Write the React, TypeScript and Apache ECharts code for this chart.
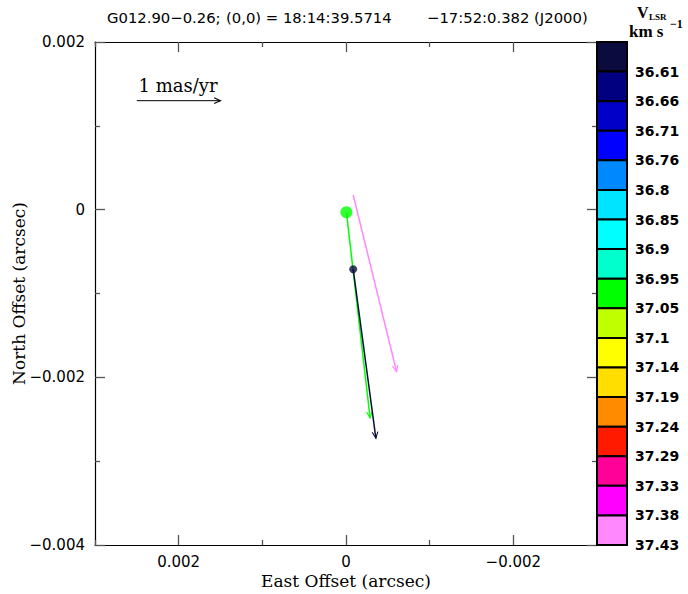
import React, { useEffect, useRef } from "react";
import * as echarts from "echarts";

// ---- data ----
const cbColors = [
  "#0b0b3e", "#000080", "#0000c8", "#0000ff", "#0088ff", "#00e4ff", "#00ffff", "#00ffcc",
  "#00ff00", "#bfff00", "#ffff00", "#ffde00", "#ff8c00", "#ff1a00", "#ff0099", "#ff00ff", "#ff88ff",
];
const cbLabels = [
  "36.61", "36.66", "36.71", "36.76", "36.8", "36.85", "36.9", "36.95", "37.05",
  "37.1", "37.14", "37.19", "37.24", "37.29", "37.33", "37.38", "37.43",
];

// maser spots (arcsec) and proper-motion vectors (arcsec, drawn with 1 mas/yr = 0.001)
const spotColorIdx = [16, 8, 0];
const spotX = [-0.000086, -0.000005, -0.000086];
const spotY = [0.000175, -0.00003, -0.000711];
const vecDX = [-0.000519, -0.000283, -0.000271];
const vecDY = [-0.002108, -0.002455, -0.002016];
const spotSize = [0, 12, 8];

// scale arrow
const scaleStart = [0.0025, 0.0013];
const scaleLen = 0.001;

// East offset tick positions, left to right (axis runs east -> west)
const xTickLabels = ["0.003", "0.002", "0.001", "0", "\u22120.001", "\u22120.002", "\u22120.003"];

const fmt = (v: number) => {
  const r = Math.round(v * 1000) / 1000;
  if (r === 0) return "0";
  return (r < 0 ? "\u2212" : "") + Math.abs(r).toFixed(3);
};

export default function App() {
  const ref = useRef<HTMLDivElement>(null);
  useEffect(() => {
    if (!ref.current) return;
    const chart = echarts.init(ref.current, undefined, { renderer: "svg" });

    const vecData = spotX.map((x, i) => [x, spotY[i], x + vecDX[i], spotY[i] + vecDY[i], spotColorIdx[i]]);
    const scaleData = [[scaleStart[0], scaleStart[1], scaleStart[0] - scaleLen, scaleStart[1], -1]];
    const dotData = spotX
      .map((x, i) => ({ value: [x, spotY[i]], size: spotSize[i], c: cbColors[spotColorIdx[i]] }))
      .filter((d) => d.size > 0)
      .map((d) => ({ value: d.value, symbolSize: d.size, itemStyle: { color: d.c } }));

    const arrowRender = (params: any, api: any) => {
      const p0 = api.coord([api.value(0), api.value(1)]);
      const p1 = api.coord([api.value(2), api.value(3)]);
      const ci = api.value(4);
      const c = ci < 0 ? "#000" : cbColors[ci];
      const lw = ci < 0 ? 1 : 1.5;
      const ang = Math.atan2(p1[1] - p0[1], p1[0] - p0[0]);
      const L = 7, a = 0.42;
      const h1 = [p1[0] - L * Math.cos(ang - a), p1[1] - L * Math.sin(ang - a)];
      const h2 = [p1[0] - L * Math.cos(ang + a), p1[1] - L * Math.sin(ang + a)];
      return {
        type: "group",
        children: [
          { type: "line", shape: { x1: p0[0], y1: p0[1], x2: p1[0], y2: p1[1] }, style: { stroke: c, lineWidth: lw } },
          { type: "polyline", shape: { points: [h1, p1, h2] }, style: { stroke: c, fill: "none", lineWidth: 1.1 } },
        ],
      };
    };

    const tickFont = { fontFamily: "DejaVu Sans", fontSize: 15, color: "#000" };
    const tickLine = { color: "#555", width: 1.3 };
    const isMajor = (i: number) => i % 2 === 1;
    const isMinor = (i: number) => i % 2 === 0;
    const catX = {
      type: "category",
      gridIndex: 0,
      data: xTickLabels,
      boundaryGap: false,
      splitLine: { show: false },
    };

    chart.setOption({
      animation: false,
      grid: [
        { left: 95, top: 42, width: 502, height: 503, outerBoundsMode: "none", containLabel: false },
        { left: 597, top: 42, width: 30, height: 503, outerBoundsMode: "none", containLabel: false },
      ],
      xAxis: [
        { type: "value", gridIndex: 0, min: -0.003, max: 0.003, inverse: true, show: false },
        {
          ...catX,
          position: "bottom",
          axisLine: { show: true, onZero: false, lineStyle: { color: "#000", width: 1.2 } },
          axisTick: { show: true, inside: true, length: 10, interval: (i: number) => isMajor(i), lineStyle: tickLine },
          axisLabel: { show: true, interval: (i: number) => isMajor(i), margin: 9, ...tickFont },
          name: "East Offset (arcsec)",
          nameLocation: "middle",
          nameGap: 27,
          nameMoveOverlap: false,
          nameTextStyle: { fontFamily: "DejaVu Serif", fontSize: 17, color: "#000" },
        },
        {
          ...catX,
          position: "bottom",
          axisLine: { show: false, onZero: false },
          axisTick: { show: true, inside: true, length: 5, interval: (i: number) => isMinor(i), lineStyle: tickLine },
          axisLabel: { show: false },
        },
        {
          ...catX,
          position: "top",
          axisLine: { show: true, onZero: false, lineStyle: { color: "#000", width: 1.2 } },
          axisTick: { show: true, inside: true, length: 10, interval: (i: number) => isMajor(i), lineStyle: tickLine },
          axisLabel: { show: false },
        },
        {
          ...catX,
          position: "top",
          axisLine: { show: false, onZero: false },
          axisTick: { show: true, inside: true, length: 5, interval: (i: number) => isMinor(i), lineStyle: tickLine },
          axisLabel: { show: false },
        },
        { type: "value", gridIndex: 1, min: 0, max: 1, show: false },
      ],
      yAxis: [
        {
          type: "value",
          gridIndex: 0,
          min: -0.004,
          max: 0.002,
          interval: 0.002,
          position: "left",
          splitLine: { show: false },
          axisLine: { show: true, onZero: false, lineStyle: { color: "#000", width: 1.2 } },
          axisTick: { show: true, inside: true, length: 10, lineStyle: tickLine },
          minorTick: { show: true, splitNumber: 2, length: 5, lineStyle: tickLine },
          axisLabel: { show: true, margin: 10, formatter: (v: number) => fmt(v), ...tickFont },
          name: "North Offset (arcsec)",
          nameLocation: "middle",
          nameGap: 68,
          nameMoveOverlap: false,
          nameTextStyle: { fontFamily: "DejaVu Serif", fontSize: 17, color: "#000" },
        },
        {
          type: "value",
          gridIndex: 0,
          min: -0.004,
          max: 0.002,
          interval: 0.002,
          position: "right",
          splitLine: { show: false },
          axisLine: { show: true, onZero: false, lineStyle: { color: "#000", width: 1.2 } },
          axisTick: { show: true, inside: true, length: 10, lineStyle: tickLine },
          minorTick: { show: true, splitNumber: 2, length: 5, lineStyle: tickLine },
          axisLabel: { show: false },
        },
        {
          type: "value",
          gridIndex: 1,
          min: 0,
          max: 17,
          interval: 1,
          inverse: true,
          position: "right",
          splitLine: { show: false },
          axisLine: { show: false },
          axisTick: { show: false },
          axisLabel: {
            show: true,
            margin: 8,
            formatter: (v: number) => (v >= 1 ? cbLabels[Math.round(v) - 1] : ""),
            fontFamily: "DejaVu Sans",
            fontWeight: "bold",
            fontSize: 14,
            color: "#000",
          },
        },
      ],
      series: [
        {
          type: "custom",
          xAxisIndex: 5,
          yAxisIndex: 2,
          data: cbColors.map((_, i) => [i]),
          renderItem: (params: any, api: any) => {
            const i = api.value(0);
            const p0 = api.coord([0, i]);
            const p1 = api.coord([1, i + 1]);
            return {
              type: "rect",
              shape: { x: p0[0], y: p0[1], width: p1[0] - p0[0], height: p1[1] - p0[1] },
              style: { fill: cbColors[i], stroke: "#000", lineWidth: 2 },
            };
          },
          silent: true,
        },
        {
          type: "custom",
          xAxisIndex: 0,
          yAxisIndex: 0,
          data: [...vecData, ...scaleData],
          renderItem: arrowRender,
          silent: true,
        },
        {
          type: "scatter",
          xAxisIndex: 0,
          yAxisIndex: 0,
          data: dotData,
          symbol: "circle",
          silent: true,
          z: 5,
        },
      ],
      graphic: [
        { type: "text", x: 107, y: 17, style: { text: "G012.90\u22120.26;", font: "14.8px 'DejaVu Sans'", fill: "#000", verticalAlign: "middle" } },
        { type: "text", x: 226, y: 17, style: { text: "(0,0) = 18:14:39.5714", font: "14.8px 'DejaVu Sans'", fill: "#000", verticalAlign: "middle" } },
        { type: "text", x: 427, y: 17, style: { text: "\u221217:52:0.382 (J2000)", font: "14.8px 'DejaVu Sans'", fill: "#000", verticalAlign: "middle" } },
        { type: "text", x: 637, y: 4, style: { text: "V", font: "bold 16px 'Liberation Serif'", fill: "#000" } },
        { type: "text", x: 649, y: 12, style: { text: "LSR", font: "bold 9px 'Liberation Serif'", fill: "#000" } },
        { type: "text", x: 629, y: 23, style: { text: "km s", font: "bold 17px 'Liberation Serif'", fill: "#000" } },
        { type: "text", x: 670, y: 18, style: { text: "\u22121", font: "bold 12px 'Liberation Serif'", fill: "#000" } },
        { type: "text", x: 178, y: 76, style: { text: "1 mas/yr", font: "18px 'DejaVu Serif'", fill: "#000", align: "center" } },
      ],
    });
    return () => chart.dispose();
  }, []);
  return <div ref={ref} style={{ position: "absolute", left: 0, top: 0, width: 688, height: 594 }} />;
}
